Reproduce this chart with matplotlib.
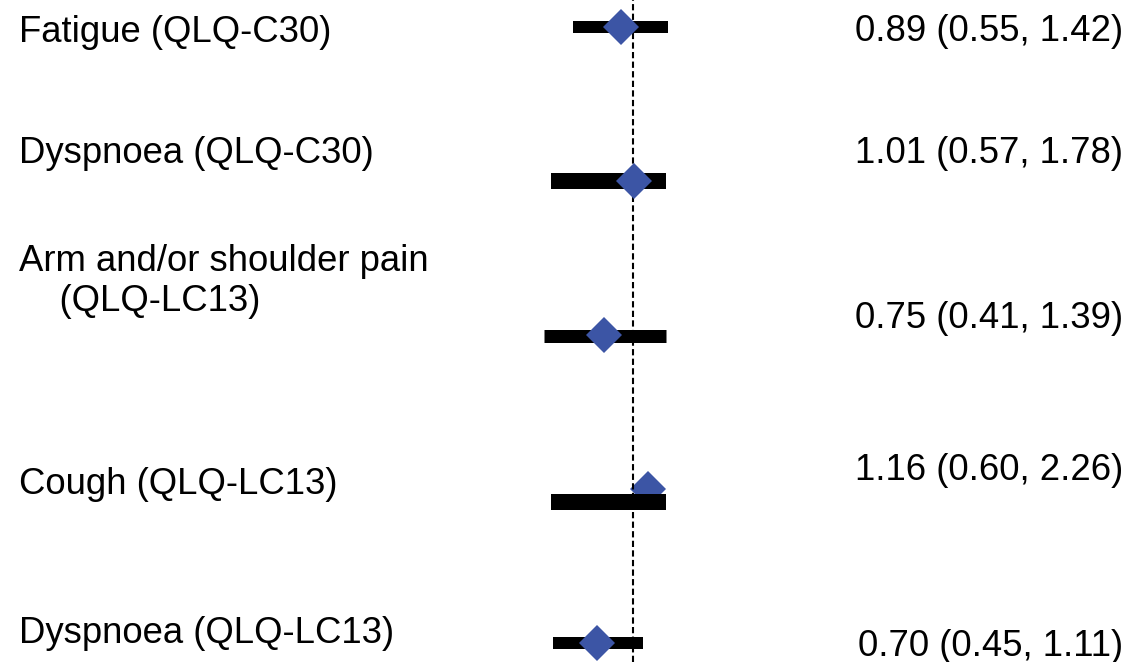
import matplotlib
matplotlib.use("Agg")
import matplotlib.pyplot as plt
import matplotlib.transforms as mtransforms

# ---------------- data ----------------
outcomes = ["Fatigue (QLQ-C30)",
            "Dyspnoea (QLQ-C30)",
            "Arm and/or shoulder pain\n    (QLQ-LC13)",
            "Cough (QLQ-LC13)",
            "Dyspnoea (QLQ-LC13)"]
estimate = [0.89, 1.01, 0.75, 1.16, 0.70]
ci_low = [0.55, 0.57, 0.41, 0.60, 0.45]
ci_high = [1.42, 1.78, 1.39, 2.26, 1.11]
# bar extents as drawn in the picture
bar_low = [0.55, 0.44, 0.41, 0.44, 0.45]
bar_high = [1.42, 1.39, 1.39, 1.39, 1.11]
ci_labels = [f"{e:.2f} ({l:.2f}, {h:.2f})" for e, l, h in zip(estimate, ci_low, ci_high)]

# ---------------- style / layout ----------------
W, H, DPI = 1132, 662, 100
ref_x_px = 633.0
px_per_decade = 230.0
row0_px, row_step_px = 27.0, 154.0
bar_dy_px = [0, 0, 0.5, 12.5, 0]
bar_w_px = [12, 16, 13, 16, 12]
diamond_z = [4, 4, 4, 1, 4]
left_dy_px = [14.5, -18, -24, 4.5, 0]
right_dy_px = [14, -18, -7, -8.5, 13]
diamond_color = "#3C55A5"
fontsize = 26.3

plt.rcParams['font.family'] = ['Liberation Sans', 'DejaVu Sans']

fig = plt.figure(figsize=(W / DPI, H / DPI), dpi=DPI)
ax = fig.add_axes([0, 0, 1, 1])
ax.set_xscale('log')
ax.set_xlim(10 ** (-ref_x_px / px_per_decade), 10 ** ((W - ref_x_px) / px_per_decade))
ax.set_ylim((H - row0_px) / row_step_px, -row0_px / row_step_px)
ax.axis('off')

pt = 72.0 / DPI
for i in range(len(outcomes)):
    yb = i + bar_dy_px[i] / row_step_px
    ax.plot([bar_low[i], bar_high[i]], [yb, yb], color='black',
            lw=bar_w_px[i] * pt, solid_capstyle='butt', zorder=2)
    ax.plot([estimate[i]], [i], marker='D', ms=18.5, color=diamond_color,
            mec=diamond_color, mew=0, ls='none', zorder=diamond_z[i])

ax.axvline(1.0, color='black', lw=1.5, ls=(0, (3, 1.6)), zorder=3)

left_x = 19 / W
right_x = 1123 / W
for i in range(len(outcomes)):
    tl = mtransforms.blended_transform_factory(fig.transFigure, ax.transData)
    tl = mtransforms.offset_copy(tl, fig=fig, x=0, y=-left_dy_px[i], units='dots')
    ax.text(left_x, i, outcomes[i], transform=tl, ha='left', va='baseline',
            fontsize=fontsize, linespacing=1.2)
    tr = mtransforms.blended_transform_factory(fig.transFigure, ax.transData)
    tr = mtransforms.offset_copy(tr, fig=fig, x=0, y=-right_dy_px[i], units='dots')
    ax.text(right_x, i, ci_labels[i], transform=tr, ha='right', va='baseline',
            fontsize=fontsize)

fig.savefig("out.png", dpi=DPI)
